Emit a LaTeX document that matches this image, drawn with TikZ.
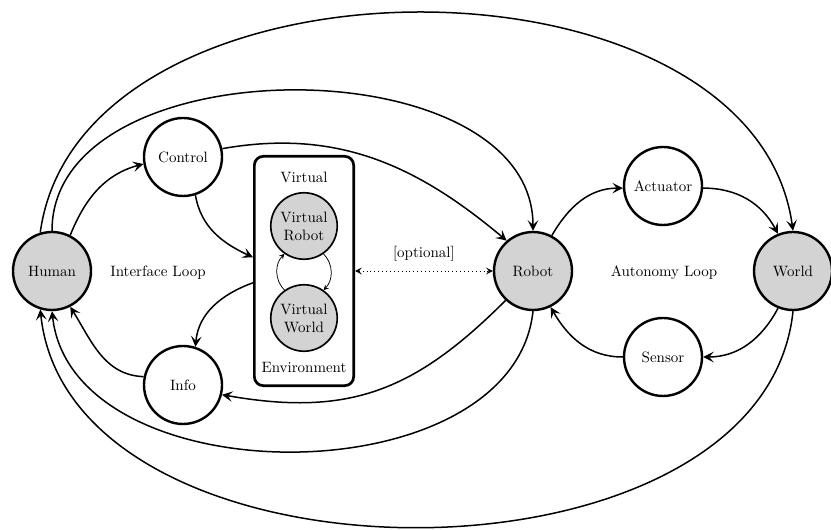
\documentclass[tikz,border=0pt]{standalone}
\usetikzlibrary{arrows.meta,calc}
\definecolor{nodegray}{RGB}{211,211,211}
\begin{document}
\begin{tikzpicture}[x=0.66667pt,y=0.66667pt,
  bignode/.style={circle,draw,line width=1.6pt,minimum size=52pt,inner sep=0pt},
  graynode/.style={bignode,fill=nodegray},
  vnode/.style={circle,draw,line width=1.1pt,fill=nodegray,minimum size=44.3pt,inner sep=0pt,align=center},
  envbox/.style={draw,line width=1.8pt,rounded corners=6pt,minimum width=66.2pt,minimum height=152.9pt,inner sep=0pt},
  conn/.style={line width=1pt,-{Stealth[length=7pt,width=7pt,inset=3pt]}},
  vconn/.style={line width=0.5pt,-{Stealth[length=3.5pt,width=3.5pt,inset=1.4pt]}},
  optconn/.style={line width=0.6pt,dotted,{Stealth[length=4.5pt,width=4.5pt,inset=1.8pt]}-{Stealth[length=4.5pt,width=4.5pt,inset=1.8pt]}},
  plain/.style={inner sep=0pt}]
\useasboundingbox (0,0) rectangle (831,529);

% nodes
\node[graynode] (human) at (52,258) {Human};
\node[bignode] (control) at (183,372) {Control};
\node[bignode] (info) at (183,144) {Info};
\node[envbox] (env) at (304,258) {};
\node[plain] (vlabel) at (304,352) {Virtual};
\node[plain] (elabel) at (304,162) {Environment};
\node[vnode] (vrobot) at (304,303) {Virtual\\Robot};
\node[vnode] (vworld) at (304,211) {Virtual\\World};
\node[graynode] (robot) at (533,258) {Robot};
\node[bignode] (actuator) at (663,343) {Actuator};
\node[bignode] (sensor) at (663,172) {Sensor};
\node[graynode] (world) at (793,258) {World};
\node[plain] (iloop) at (158,256) {Interface Loop};
\node[plain] (aloop) at (664,256) {Autonomy Loop};

% interface loop
\draw[conn] (human.63) to[out=68,in=195] (control.190);
\draw[conn] (control.-72) to[out=-80,in=155] (env.165);
\draw[conn] (env.193) to[out=200,in=85] (info.72);
\draw[conn] (info.168) to[out=178,in=-58] (human.-63);

% long connections
\draw[conn] (control.12) to[out=10,in=140] (robot.131);
\draw[conn] (robot.-133) to[out=-135,in=-10,looseness=1.1] (info.-14);
\draw[conn] (human.90) .. controls +(0,187) and +(0,187) .. (robot.90);
\draw[conn] (human.107) .. controls +(40,292) and +(-40,292) .. (world.90);
\draw[conn] (robot.-90) .. controls +(-20,-187) and +(20,-187) .. (human.-90);
\draw[conn] (world.-90) .. controls +(-30,-289) and +(30,-289) .. (human.-107);

% autonomy loop
\draw[conn] (robot.62) to[out=60,in=180] (actuator.183);
\draw[conn] (actuator.-3) to[out=0,in=118] (world.112);
\draw[conn] (world.-112) to[out=-118,in=0] (sensor.0);
\draw[conn] (sensor.180) to[out=180,in=-60] (robot.-64);

% virtual environment
\draw[vconn] (vrobot.-55) to[bend left=45] (vworld.55);
\draw[vconn] (vworld.125) to[bend left=45] (vrobot.-125);

% optional link
\draw[optconn] (env.east) -- (robot.west) node[midway,above=6pt,inner sep=0pt] (optlbl) {[optional]};
\end{tikzpicture}
\end{document}
